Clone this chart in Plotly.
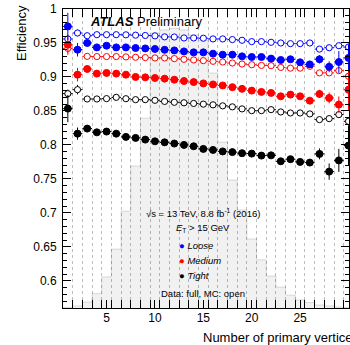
import plotly.graph_objects as go

# ---------------- data ----------------
npv = list(range(1, 31))

loose_data = [0.9744, 0.9401, 0.9500, 0.9435, 0.9460, 0.9435, 0.9435, 0.9426, 0.9420, 0.9412,
              0.9400, 0.9391, 0.9376, 0.9362, 0.9362, 0.9343, 0.9328, 0.9328, 0.9303, 0.9294,
              0.9294, 0.9270, 0.9250, 0.9260, 0.9215, 0.9185, 0.9260, 0.9150, 0.9220, 0.9280]
loose_data_err = [0.020, 0.010, 0.004, 0.003, 0.002, 0.002, 0.002, 0.002, 0.002, 0.002,
                  0.002, 0.002, 0.002, 0.002, 0.002, 0.002, 0.002, 0.002, 0.002, 0.002,
                  0.002, 0.002, 0.003, 0.003, 0.003, 0.004, 0.006, 0.008, 0.016, 0.020]
loose_mc = [0.9559, 0.9647, 0.9607, 0.9622, 0.9622, 0.9622, 0.9620, 0.9615, 0.9610, 0.9605,
            0.9590, 0.9588, 0.9574, 0.9574, 0.9570, 0.9560, 0.9560, 0.9550, 0.9540, 0.9520,
            0.9520, 0.9510, 0.9500, 0.9490, 0.9490, 0.9500, 0.9410, 0.9430, 0.9460, 0.9440]
loose_mc_err = [0.005, 0.005, 0.002, 0.001, 0.001, 0.001, 0.001, 0.001, 0.001, 0.001,
                0.001, 0.001, 0.001, 0.001, 0.001, 0.001, 0.001, 0.001, 0.001, 0.001,
                0.001, 0.001, 0.001, 0.001, 0.002, 0.002, 0.002, 0.003, 0.004, 0.005]

medium_data = [0.9475, 0.9034, 0.9118, 0.9049, 0.9059, 0.9049, 0.9034, 0.9000, 0.8994, 0.8985,
               0.8975, 0.8960, 0.8940, 0.8925, 0.8905, 0.8890, 0.8875, 0.8850, 0.8825, 0.8799,
               0.8780, 0.8765, 0.8715, 0.8740, 0.8715, 0.8651, 0.8750, 0.8691, 0.8593, 0.8813]
medium_data_err = [0.015, 0.010, 0.004, 0.003, 0.002, 0.002, 0.002, 0.002, 0.002, 0.002,
                   0.002, 0.002, 0.002, 0.002, 0.002, 0.002, 0.002, 0.002, 0.002, 0.002,
                   0.002, 0.002, 0.003, 0.003, 0.003, 0.004, 0.006, 0.008, 0.012, 0.030]
medium_mc = [0.9420, 0.9400, 0.9303, 0.9300, 0.9300, 0.9300, 0.9295, 0.9290, 0.9285, 0.9280,
             0.9280, 0.9270, 0.9260, 0.9250, 0.9240, 0.9230, 0.9220, 0.9205, 0.9190, 0.9180,
             0.9170, 0.9166, 0.9140, 0.9130, 0.9130, 0.9156, 0.9060, 0.9060, 0.9093, 0.9010]
medium_mc_err = [0.006, 0.005, 0.002, 0.001, 0.001, 0.001, 0.001, 0.001, 0.001, 0.001,
                 0.001, 0.001, 0.001, 0.001, 0.001, 0.001, 0.001, 0.001, 0.001, 0.001,
                 0.001, 0.001, 0.001, 0.001, 0.002, 0.002, 0.002, 0.003, 0.004, 0.005]

tight_data = [0.8534, 0.8166, 0.8240, 0.8185, 0.8196, 0.8166, 0.8118, 0.8103, 0.8078, 0.8053,
              0.8038, 0.8020, 0.8000, 0.7980, 0.7941, 0.7926, 0.7904, 0.7894, 0.7878, 0.7872,
              0.7843, 0.7846, 0.7759, 0.7790, 0.7750, 0.7740, 0.7868, 0.7607, 0.7772, 0.7990]
tight_data_err = [0.020, 0.009, 0.004, 0.003, 0.002, 0.002, 0.002, 0.002, 0.002, 0.002,
                  0.002, 0.002, 0.002, 0.002, 0.002, 0.002, 0.002, 0.002, 0.002, 0.002,
                  0.002, 0.002, 0.003, 0.003, 0.003, 0.004, 0.008, 0.012, 0.017, 0.030]
tight_mc = [0.8754, 0.8813, 0.8676, 0.8676, 0.8681, 0.8700, 0.8680, 0.8666, 0.8666, 0.8656,
            0.8640, 0.8627, 0.8620, 0.8610, 0.8600, 0.8590, 0.8575, 0.8560, 0.8530, 0.8504,
            0.8504, 0.8519, 0.8485, 0.8470, 0.8470, 0.8456, 0.8372, 0.8387, 0.8446, 0.8347]
tight_mc_err = [0.006, 0.007, 0.002, 0.001, 0.001, 0.001, 0.001, 0.001, 0.001, 0.001,
                0.001, 0.001, 0.001, 0.001, 0.001, 0.001, 0.001, 0.001, 0.001, 0.001,
                0.001, 0.001, 0.001, 0.001, 0.002, 0.002, 0.002, 0.003, 0.004, 0.005]

# pile-up (number of primary vertices) distribution, arbitrary normalisation
npv_dist = [0.002, 0.007, 0.020, 0.048, 0.104, 0.197, 0.324, 0.475, 0.635, 0.920,
            0.930, 0.935, 0.930, 0.913, 0.896, 0.786, 0.555, 0.428, 0.328, 0.231,
            0.161, 0.107, 0.070, 0.043, 0.027, 0.018, 0.010, 0.007, 0.003, 0.002]

y_ticks = [0.6, 0.65, 0.7, 0.75, 0.8, 0.85, 0.9, 0.95, 1.0]
y_tick_labels = ["0.6", "0.65", "0.7", "0.75", "0.8", "0.85", "0.9", "0.95", "1"]
x_ticks = [5, 10, 15, 20, 25, 30]
x_tick_labels = ["5", "10", "15", "20", "25", "30"]

FONT = "Liberation Sans, Arial, Helvetica, sans-serif"
BLUE, RED, BLACK = "#0000ff", "#ff0000", "#000000"

fig = go.Figure()

# histogram as step fill on hidden main axis
edges = [c - 0.5 for c in npv] + [npv[-1] + 0.5]
fig.add_trace(go.Scatter(
    x=edges, y=npv_dist + [npv_dist[-1]], mode="lines", line_shape="hv",
    line=dict(color="rgba(0,0,0,0.13)", width=1),
    fill="tozeroy", fillcolor="rgba(0,0,0,0.055)",
    xaxis="x", yaxis="y", hoverinfo="skip", showlegend=False))


def add_series(vals, errs, color, filled):
    fig.add_trace(go.Scatter(
        x=npv, y=vals, mode="markers", xaxis="x", yaxis="y2",
        marker=dict(symbol="circle", size=7 if filled else 6.2,
                    color=color if filled else "white", line=dict(width=1, color=color)),
        error_y=dict(type="data", array=errs, visible=True, color=color, thickness=1, width=0),
        error_x=dict(type="constant", value=0.5, visible=True, color=color, thickness=1, width=0),
        showlegend=False))


add_series(tight_mc, tight_mc_err, BLACK, False)
add_series(medium_mc, medium_mc_err, RED, False)
add_series(loose_mc, loose_mc_err, BLUE, False)
add_series(tight_data, tight_data_err, BLACK, True)
add_series(medium_data, medium_data_err, RED, True)
add_series(loose_data, loose_data_err, BLUE, True)

fig.update_layout(
    width=350, height=345,
    margin=dict(l=63, r=1, t=9, b=37),
    paper_bgcolor="white", plot_bgcolor="white",
    font=dict(family=FONT, size=12, color="black"),
    showlegend=False,
    xaxis=dict(
        range=[0.5, 30.05], tickvals=x_ticks, ticktext=x_tick_labels,
        ticks="inside", ticklen=8, tickwidth=1, tickcolor="black",
        showline=True, linecolor="black", linewidth=1, mirror="allticks",
        showgrid=False, zeroline=False, ticklabelstandoff=-1,
        minor=dict(tick0=0.5, dtick=1, ticks="inside", ticklen=4, tickcolor="black",
                   showgrid=True, gridcolor="#bdbdbd", griddash="dot", gridwidth=1),
        tickfont=dict(size=12), layer="above traces"),
    yaxis=dict(range=[0, 1], visible=False, fixedrange=True),
    yaxis2=dict(
        range=[0.56, 1.0], overlaying="y", side="left", anchor="x",
        tickvals=y_ticks, ticktext=y_tick_labels,
        ticks="inside", ticklen=8, tickwidth=1, tickcolor="black",
        showline=True, linecolor="black", linewidth=1, mirror="allticks",
        showgrid=False, zeroline=False, ticklabelstandoff=3,
        minor=dict(dtick=0.01, ticks="inside", ticklen=4, tickcolor="black", showgrid=False),
        tickfont=dict(size=12), layer="above traces"),
)

W0, W1, H0, H1 = 63, 349, 9, 308


def px(xp):
    return (xp - W0) / (W1 - W0)


def py(yp):
    return (H1 - yp) / (H1 - H0)


annots = [
    dict(text="<b><i>ATLAS</i></b> Preliminary", x=px(88), y=py(21.5), xanchor="left",
         yanchor="middle", font=dict(size=13)),
    dict(text="√s = 13 TeV, 8.8 fb<sup>-1</sup> (2016)", x=px(203), y=py(213),
         xanchor="center", yanchor="middle", font=dict(size=9.5)),
    dict(text="<i>E</i><sub>T</sub> > 15 GeV", x=px(203), y=py(228),
         xanchor="center", yanchor="middle", font=dict(size=9.5)),
    dict(text="<span style='color:#0000ff'>●</span> <i>Loose</i>", x=px(177), y=py(245.7),
         xanchor="left", yanchor="middle", font=dict(size=9.5)),
    dict(text="<span style='color:#ff0000'>●</span> <i>Medium</i>", x=px(177), y=py(260.7),
         xanchor="left", yanchor="middle", font=dict(size=9.5)),
    dict(text="<span style='color:#000000'>●</span> <i>Tight</i>", x=px(177), y=py(275.7),
         xanchor="left", yanchor="middle", font=dict(size=9.5)),
    dict(text="Data: full, MC: open", x=px(203), y=py(293), xanchor="center",
         yanchor="middle", font=dict(size=9.5)),
    dict(text="Efficiency", x=px(21), y=py(3), xanchor="center", yanchor="top",
         textangle=-90, font=dict(size=13)),
    dict(text="Number of primary vertices", x=px(362), y=py(337), xanchor="right",
         yanchor="middle", font=dict(size=13)),
]
for a in annots:
    a.update(xref="paper", yref="paper", showarrow=False)
    fig.add_annotation(**a)

fig.write_html("out.html")
